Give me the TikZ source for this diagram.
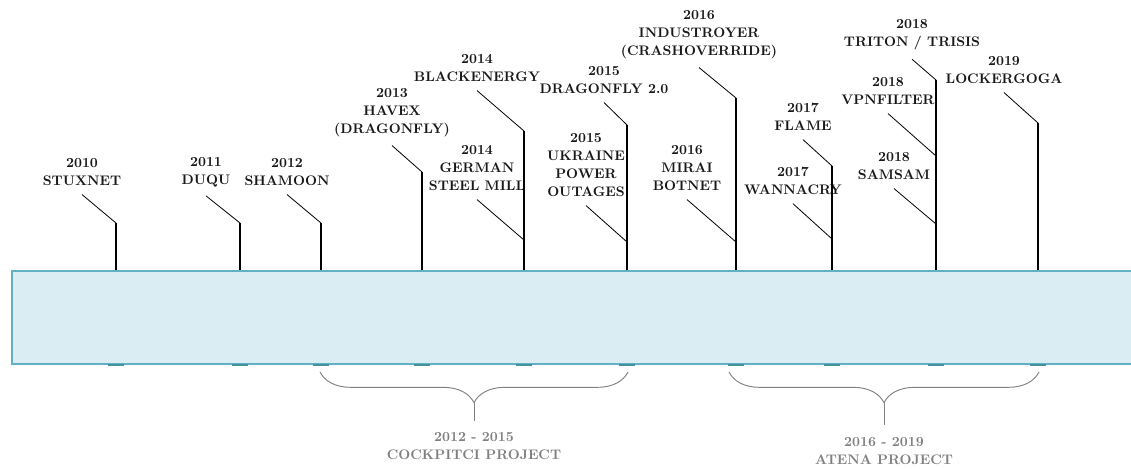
\documentclass[tikz,border=0pt]{standalone}
\usepackage{tikz}
\usetikzlibrary{decorations.pathreplacing, calc, positioning}
\definecolor{barfill}{RGB}{218,237,243}
\definecolor{barline}{RGB}{98,176,196}
\definecolor{notchteal}{RGB}{70,145,160}
\definecolor{projgray}{RGB}{128,128,128}

\begin{document}
\begin{tikzpicture}[x=0.75pt, y=-0.75pt,
  event/.style={align=center, inner sep=0pt, text=black!90,
    font=\fontsize{10.4}{13.5}\selectfont\bfseries},
  project/.style={event, text=projgray},
  bar/.style={draw=barline, fill=barfill, line width=1.4pt,
    minimum width=855pt, minimum height=70pt, inner sep=0pt},
  stem/.style={line width=0.9pt},
  lead/.style={line width=0.6pt},
  notch/.style={notchteal, line width=1pt},
  span/.style={projgray, line width=0.7pt, decorate,
    decoration={brace, mirror, amplitude=23pt}},
  tail/.style={projgray, line width=0.7pt}]
  \useasboundingbox (0,0) rectangle (1131,468);

  % the timeline band
  \node[bar, anchor=north west] (bar) at (11,270) {};

  % bends of the leaders
  \coordinate (k10) at (116,223);
  \coordinate (k11) at (240,223);
  \coordinate (k12) at (321,223);
  \coordinate (k13) at (422,172);
  \coordinate (k14a) at (524,131);
  \coordinate (k14b) at (524,240);
  \coordinate (k15a) at (627,125);
  \coordinate (k15b) at (627,242);
  \coordinate (k16a) at (736,98);
  \coordinate (k16b) at (736,242);
  \coordinate (k17a) at (832,166);
  \coordinate (k17b) at (832,239);
  \coordinate (k18a) at (936,80);
  \coordinate (k18b) at (936,156);
  \coordinate (k18c) at (936,224);
  \coordinate (k19) at (1038,123);

  % events
  \node[event] (stuxnet) at (82,172) {2010\\STUXNET};
  \node[event] (duqu) at (206,172) {2011\\DUQU};
  \node[event] (shamoon) at (287,172) {2012\\SHAMOON};
  \node[event] (havex) at (392,113) {2013\\HAVEX\\(DRAGONFLY)};
  \node[event] (blackenergy) at (477,68) {2014\\BLACKENERGY};
  \node[event] (steelmill) at (477,168) {2014\\GERMAN\\STEEL MILL};
  \node[event] (dragonfly) at (604,80) {2015\\DRAGONFLY 2.0};
  \node[event] (ukraine) at (586,165) {2015\\UKRAINE\\POWER\\OUTAGES};
  \node[event] (industroyer) at (699,35) {2016\\INDUSTROYER\\(CRASHOVERRIDE)};
  \node[event] (mirai) at (687,168) {2016\\MIRAI\\BOTNET};
  \node[event] (flame) at (803,117) {2017\\FLAME};
  \node[event] (wannacry) at (793,181) {2017\\WANNACRY};
  \node[event] (triton) at (912,35) {2018\\TRITON / TRISIS};
  \node[event] (vpnfilter) at (888,91) {2018\\VPNFILTER};
  \node[event] (samsam) at (894,166) {2018\\SAMSAM};
  \node[event] (lockergoga) at (1004,70) {2019\\LOCKERGOGA};

  % stems
  \draw[stem] (bar.north -| k10) -- (k10);
  \draw[stem] (bar.north -| k11) -- (k11);
  \draw[stem] (bar.north -| k12) -- (k12);
  \draw[stem] (bar.north -| k13) -- (k13);
  \draw[stem] (bar.north -| k14a) -- (k14a);
  \draw[stem] (bar.north -| k15a) -- (k15a);
  \draw[stem] (bar.north -| k16a) -- (k16a);
  \draw[stem] (bar.north -| k17a) -- (k17a);
  \draw[stem] (bar.north -| k18a) -- (k18a);
  \draw[stem] (bar.north -| k19) -- (k19);

  % leaders
  \draw[lead] (k10) -- ([yshift=-6.5pt]stuxnet.south);
  \draw[lead] (k11) -- ([yshift=-6.5pt]duqu.south);
  \draw[lead] (k12) -- ([yshift=-6.5pt]shamoon.south);
  \draw[lead] (k13) -- ([yshift=-6pt]havex.south);
  \draw[lead] (k14a) -- ([yshift=-6.5pt]blackenergy.south);
  \draw[lead] (k14b) -- ([yshift=-6.5pt]steelmill.south);
  \draw[lead] (k15a) -- ([yshift=-6.5pt]dragonfly.south);
  \draw[lead] (k15b) -- ([yshift=-6.5pt]ukraine.south);
  \draw[lead] (k16a) -- ([yshift=-6pt]industroyer.south);
  \draw[lead] (k16b) -- ([yshift=-6.5pt]mirai.south);
  \draw[lead] (k17a) -- ([yshift=-6.5pt]flame.south);
  \draw[lead] (k17b) -- ([yshift=-6.5pt]wannacry.south);
  \draw[lead] (k18a) -- ([yshift=-6.5pt]triton.south);
  \draw[lead] (k18b) -- ([yshift=-6.5pt]vpnfilter.south);
  \draw[lead] (k18c) -- ([yshift=-6.5pt]samsam.south);
  \draw[lead] (k19) -- ([yshift=-6.5pt]lockergoga.south);

  % small marks on the lower edge of the band
  \draw[notch] ([xshift=-6pt,yshift=0.1pt]bar.south -| k10) -- ++(16,0);
  \draw[notch] ([xshift=-6pt,yshift=0.1pt]bar.south -| k11) -- ++(16,0);
  \draw[notch] ([xshift=-6pt,yshift=0.1pt]bar.south -| k12) -- ++(16,0);
  \draw[notch] ([xshift=-6pt,yshift=0.1pt]bar.south -| k13) -- ++(16,0);
  \draw[notch] ([xshift=-6pt,yshift=0.1pt]bar.south -| k14a) -- ++(16,0);
  \draw[notch] ([xshift=-6pt,yshift=0.1pt]bar.south -| k15a) -- ++(16,0);
  \draw[notch] ([xshift=-6pt,yshift=0.1pt]bar.south -| k16a) -- ++(16,0);
  \draw[notch] ([xshift=-6pt,yshift=0.1pt]bar.south -| k17a) -- ++(16,0);
  \draw[notch] ([xshift=-6pt,yshift=0.1pt]bar.south -| k18a) -- ++(16,0);
  \draw[notch] ([xshift=-6pt,yshift=0.1pt]bar.south -| k19) -- ++(16,0);

  % projects
  \coordinate (p12) at (320,372);
  \coordinate (p15) at (628,372);
  \coordinate (p16) at (729,372);
  \coordinate (p19) at (1039,372);
  \draw[span] (p12) -- (p15);
  \draw[span] (p16) -- (p19);
  \node[project] (cockpitci) at (474,446) {2012 - 2015\\COCKPITCI PROJECT};
  \node[project] (atena) at (884,451) {2016 - 2019\\ATENA PROJECT};
  \draw[tail] ($(p12)!0.5!(p15)+(0,30.5)$) -- ([yshift=8pt]cockpitci.north);
  \draw[tail] ($(p16)!0.5!(p19)+(0,30.5)$) -- ([yshift=9pt]atena.north);
\end{tikzpicture}
\end{document}
